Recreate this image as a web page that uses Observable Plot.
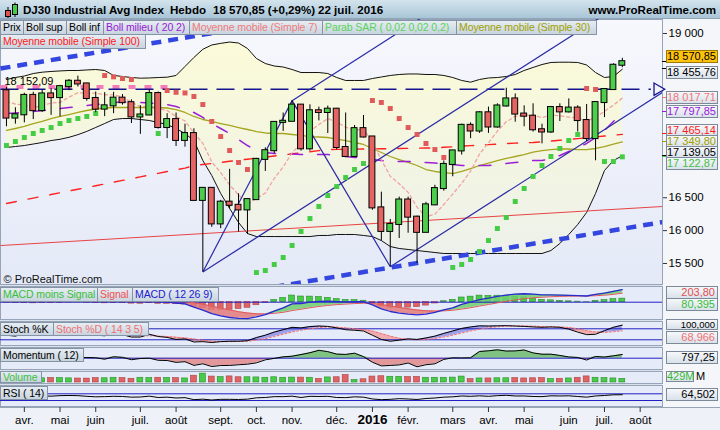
<!DOCTYPE html>
<html lang="fr">
<head>
<meta charset="utf-8">
<title>DJ30 Industrial Avg Index – Hebdo</title>
<script src="https://cdn.jsdelivr.net/npm/d3@7"></script>
<script src="https://cdn.jsdelivr.net/npm/@observablehq/plot@0.6"></script>
<style>
html,body{margin:0;padding:0;background:#fff;}
#root{position:relative;width:720px;height:430px;overflow:hidden;background:#d9e1ec;font-family:"Liberation Sans",Arial,sans-serif;color:#000;}
.a{position:absolute;}
.panel{position:absolute;left:0;width:663px;box-sizing:border-box;border:1px solid #97a4b8;}
.lg{position:absolute;box-sizing:border-box;height:15px;line-height:13px;font-size:10.5px;letter-spacing:-0.1px;padding:0 0 0 2px;border:1px solid #8494a6;background:linear-gradient(#e6edf3,#c8d4df);white-space:nowrap;overflow:hidden;}
.vb{position:absolute;left:666px;width:52px;box-sizing:border-box;height:13px;line-height:11px;font-size:11px;text-align:right;padding-right:2px;border:1px solid #7b8999;background:linear-gradient(#f6f8fb,#d9e1ea);white-space:nowrap;}
.pw{position:absolute;left:0;}
.pw svg{display:block;}
</style>
</head>
<body>
<svg width="0" height="0" style="position:absolute">
 <defs>
  <linearGradient id="bollFill" x1="0" y1="0" x2="0" y2="1">
   <stop offset="0" stop-color="#fbfad8"/>
   <stop offset="1" stop-color="#edf1ea"/>
  </linearGradient>
 </defs>
</svg>
<div id="root"></div>
<script>
// ---------------- DATA (weekly candles, 27 Mar 2015 – 22 Jul 2016) ----------------
const dates = ["2015-03-27","2015-04-02","2015-04-10","2015-04-17","2015-04-24","2015-05-01","2015-05-08","2015-05-15","2015-05-22","2015-05-29",
"2015-06-05","2015-06-12","2015-06-19","2015-06-26","2015-07-02","2015-07-10","2015-07-17","2015-07-24","2015-07-31","2015-08-07",
"2015-08-14","2015-08-21","2015-08-28","2015-09-04","2015-09-11","2015-09-18","2015-09-25","2015-10-02","2015-10-09","2015-10-16",
"2015-10-23","2015-10-30","2015-11-06","2015-11-13","2015-11-20","2015-11-27","2015-12-04","2015-12-11","2015-12-18","2015-12-24",
"2015-12-31","2016-01-08","2016-01-15","2016-01-22","2016-01-29","2016-02-05","2016-02-12","2016-02-19","2016-02-26","2016-03-04",
"2016-03-11","2016-03-18","2016-03-24","2016-04-01","2016-04-08","2016-04-15","2016-04-22","2016-04-29","2016-05-06","2016-05-13",
"2016-05-20","2016-05-27","2016-06-03","2016-06-10","2016-06-17","2016-06-24","2016-07-01","2016-07-08","2016-07-15","2016-07-22"];
const open = [18128,17713,17763,18058,17826,18080,18024,18191,18273,18232,
18011,17849,17899,18016,17947,17730,17760,18086,17569,17690,
17373,17477,16460,16643,16102,16433,16385,16315,16472,17084,
17216,17647,17664,17910,17245,17824,17798,17848,17265,17129,
17552,17425,16346,15988,16094,16466,16205,15974,16392,16640,
17007,17213,17602,17516,17793,17577,17897,18004,17774,17741,
17535,17501,17873,17807,17865,17675,17401,17949,18147,18517];
const high = [18180,17870,18090,18105,18135,18165,18210,18300,18351,18245,
18110,18100,18105,18070,17990,17900,18135,18110,17780,17790,
17620,17550,16650,16650,16460,16933,16560,16480,17100,17260,
17650,17790,17978,17920,17915,17880,17895,17860,17790,17600,
17752,17430,16585,16170,16510,16510,16220,16430,16690,17060,
17220,17620,17640,17810,17880,17930,18167,18080,17900,17930,
17620,17890,17930,18005,17900,17920,17950,18160,18540,18622];
const low = [17580,17620,17640,17690,17800,17755,17730,18130,18185,17970,
17795,17735,17780,17910,17630,17465,17750,17545,17400,17280,
17270,16450,15370,16050,16030,16330,15980,15940,16470,16900,
17170,17510,17660,17210,17210,17670,17478,17230,17110,17120,
17410,16310,15842,15450,15880,15960,15503,15970,16380,16600,
16820,17150,17400,17480,17480,17560,17880,17650,17580,17500,
17320,17480,17660,17790,17500,17356,17063,17720,18140,18480];
const close = [17713,17763,18058,17826,18080,18024,18191,18273,18232,18011,
17849,17899,18016,17947,17730,17760,18086,17569,17690,17373,
17477,16460,16643,16102,16433,16385,16315,16472,17084,17216,
17647,17664,17910,17245,17824,17798,17848,17265,17129,17552,
17425,16346,15988,16094,16466,16205,15974,16392,16640,17007,
17213,17602,17516,17793,17577,17897,18004,17774,17741,17535,
17501,17873,17807,17865,17675,17401,17949,18147,18516.55,18570.85];
// Bollinger (20, 2)
const bollUpper = [18300,18330,18353,18391,18411,18422,18430,18437,18437,18445,
18452,18437,18361,18346,18330,18320,18323,18330,18335,18361,
18498,18635,18760,18825,18850,18870,18855,18772,18620,18543,
18505,18490,18452,18406,18406,18406,18391,18330,18285,18285,
18285,18315,18338,18361,18376,18384,18384,18376,18376,18361,
18330,18285,18259,18300,18323,18330,18346,18376,18437,18483,
18528,18559,18563,18563,18559,18521,18406,18330,18346,18455.76];
const bollLower = [17265,17280,17295,17318,17341,17371,17390,17420,17460,17510,
17570,17630,17691,17706,17706,17691,17676,17645,17615,17554,
17478,17371,17067,16839,16565,16337,16124,15956,15910,15910,
15910,15910,15910,15910,15910,15926,15926,15941,15941,15941,
15926,15910,15849,15758,15728,15713,15697,15682,15667,15652,
15652,15652,15652,15652,15652,15652,15652,15652,15652,15652,
15652,15697,15804,15941,16093,16276,16565,16915,17067,17139.05];
const bollMiddle = [17782,17790,17798,17813,17828,17843,17858,17874,17889,17904,
17919,17935,17950,17957,17957,17950,17942,17935,17919,17889,
17843,17798,17722,17630,17554,17478,17387,17295,17219,17189,
17174,17174,17166,17158,17158,17158,17158,17143,17128,17113,
17105,17082,17067,17052,17052,17052,17044,17037,17029,17021,
17006,16991,16991,16991,16991,17006,17021,17037,17052,17067,
17067,17098,17143,17204,17265,17326,17417,17524,17661,17797.85];
const ma7 = [17963,17926,17914,17870,17902,17942,17951,18031,18098,18091,
18094,18068,18067,18032,17955,17887,17898,17858,17828,17736,
17669,17488,17328,17045,16883,16696,16545,16401,16491,16572,
16793,16969,17187,17320,17513,17615,17705,17651,17574,17523,
17549,17338,17079,16828,16714,16582,16357,16209,16251,16397,
16557,16719,16906,17166,17335,17515,17657,17738,17757,17760,
17718,17761,17748,17728,17714,17665,17724,17817,17909,18017.71];
const ma30 = [17524,17554,17585,17630,17661,17706,17737,17767,17798,17828,
17851,17866,17874,17874,17874,17874,17874,17874,17866,17843,
17798,17737,17691,17661,17630,17600,17569,17539,17508,17486,
17478,17478,17463,17448,17432,17425,17417,17394,17371,17341,
17311,17250,17189,17128,17082,17037,16991,16930,16900,16884,
16869,16900,16945,16991,17029,17067,17098,17128,17158,17196,
17219,17234,17242,17242,17234,17234,17250,17280,17318,17349.80];
const ma100 = [16413,16440,16468,16495,16522,16549,16576,16603,16630,16656,
16683,16710,16737,16764,16791,16818,16845,16872,16899,16926,
16952,16990,17006,17022,17038,17055,17071,17087,17104,17120,
17136,17152,17169,17185,17201,17218,17234,17236,17238,17240,
17242,17244,17246,17248,17250,17252,17254,17257,17260,17268,
17276,17285,17293,17301,17309,17317,17325,17332,17337,17341,
17352,17364,17375,17387,17400,17413,17426,17439,17452,17465.14];
// Parabolic SAR (0,02 0,02 0,2); null = no dot visible
const sar = [17295,17356,17417,17478,17524,17569,17630,17676,17706,17737,
17782,18360,18340,18315,18300,null,null,17478,18132,18105,
18095,18041,17919,17661,17432,17219,17037,16930,15362,15393,
15484,15591,15774,15987,16184,16367,16534,16671,16808,16930,
17021,17980,17950,17858,17706,17569,17463,17326,17234,17113,
15439,15484,15560,15682,15849,16032,16200,16443,16641,16824,
16991,17128,17250,17371,17463,18163,18148,17052,17052,17122.87];
// Drawn objects (index of week, price)
const levelLine = 18152.09;            // navy dashed horizontal line with arrow
const pinkLevel = 18186;               // thick pink dashed line (left part)
const pinkLevelEnd = 18.3;
const channelSegments = [               // thin navy lines
  [22, 15370, 32, 17978],
  [32, 17978, 43, 15450],
  [22, 15370, 74, 19894],
  [32, 17978, 74, 21632],
  [43, 15450, 74, 18147]
];
const thickDashSegments = [[-0.67, 18467, 30, 19163], [30, 15143, 73.5, 16130]];
const redTrendSegments = [[-0.67, 15773, 73.5, 16367]];
const priceTicks = [19000, 16500, 16000, 15500];
// MACD (12 26 9)
const macd = [120,105,100,90,88,85,88,92,95,85,
70,60,58,52,35,25,30,10,0,-20,
-40,-110,-180,-260,-310,-345,-365,-370,-330,-280,
-200,-130,-40,-30,0,20,25,15,5,15,
10,-60,-150,-210,-245,-270,-285,-270,-230,-175,
-130,-50,0,60,90,130,160,180,190,180,
165,165,160,155,150,140,175,205,245,284.195];
const macdSignal = [130,125,120,115,110,105,102,100,99,96,
91,85,80,75,67,59,53,45,36,25,
12,-12,-46,-89,-133,-175,-213,-244,-261,-265,
-252,-228,-190,-158,-126,-97,-73,-55,-43,-31,
-23,-30,-54,-85,-117,-148,-175,-194,-201,-196,
-183,-156,-125,-88,-52,-16,19,51,79,99,
112,123,130,135,138,138,146,158,176,203.80];
const macdHist = [-10,-20,-20,-25,-22,-20,-14,-8,-4,-11,
-21,-25,-22,-23,-32,-34,-23,-35,-36,-45,
-52,-98,-134,-171,-177,-170,-152,-126,-69,-15,
52,98,150,128,126,117,98,70,48,46,
33,-30,-96,-125,-128,-122,-110,-76,-29,21,
53,106,125,148,142,146,141,129,111,81,
53,42,30,20,12,2,29,47,69,80.395];
// Stochastic (14 3 5)
const stochK = [45,40,55,48,58,55,68,78,75,60,
45,42,52,48,35,35,50,38,33,22,
25,8,10,5,10,12,12,15,32,45,
62,75,88,85,92,95,93,85,75,72,
68,45,22,12,18,25,22,30,40,55,
68,82,90,96,95,96,97,95,93,90,
88,90,88,78,62,48,50,70,88,100];
const stochD = [50,47,46,47,50,52,56,62,68,70,
66,58,52,50,45,42,42,40,38,34,
30,24,18,12,10,10,11,12,18,26,
38,50,62,72,80,86,90,89,85,80,
76,68,54,40,28,22,20,22,27,35,
45,57,68,78,86,91,94,95,95,94,
92,91,90,87,80,70,62,60,64,68.966];
// Momentum (12)
const momentum = [-120,26,547,153,915,200,172,133,99,155,
100,-229,303,184,-328,-66,6,-455,-501,-900,
-755,-1551,-1206,-1797,-1583,-1562,-1415,-1288,-1002,-353,
-43,291,433,785,1181,1696,1415,880,814,1080,
341,-870,-1659,-1570,-1444,-1040,-1850,-1406,-1208,-258,
84,50,91,1447,1589,1803,1538,1569,1767,1143,
861,866,594,263,159,-392,372,250,513,797.25];
// Volume (millions)
const volume = [520,430,480,520,500,530,520,490,470,460,
520,500,560,520,440,560,520,560,540,520,
480,800,1050,700,640,720,620,620,600,560,
620,560,580,580,560,420,600,620,880,300,
380,700,740,680,660,640,660,560,560,560,
580,700,400,480,480,500,500,520,480,500,
520,400,440,480,560,720,560,520,480,429];
// RSI (14)
const rsi = [52,53,57,54,57,56,59,60,59,55,
52,53,55,54,50,51,56,48,50,45,
47,35,38,33,37,37,36,38,46,48,
53,53,56,48,55,54,55,48,47,52,
50,39,35,37,41,39,36,42,45,50,
52,57,55,58,55,59,61,57,57,54,
53,58,57,58,54,50,57,60,64,64.502];
// X-axis ticks (week index of first week of each month)
const monthTickIdx = [2,6,10,15,19,24,28,32,37,41,45,50,54,58,63,67,71];
const monthTickLabels = ["avr.","mai","juin","juil.","août","sept.","oct.","nov.","déc.","2016","févr.","mars","avr.","mai","juin","juil.","août"];
const yearTick = "2016";

// ---------------- LAYOUT ----------------
const N = close.length;
const X = {domain: [-0.67, 73.5], axis: null};
const W = 720, MR = 58;
const GREEN = "#4ccd4c", RED = "#e46464", NAVY = "#14148e";
const loc = d3.formatLocale({decimal: ",", thousands: "\u00a0", grouping: [3], currency: ["", ""]});
const f0 = loc.format(",.0f"), f2 = loc.format(",.2f"), f3 = loc.format(",.3f");
const root = document.getElementById("root");
const FONT = "Liberation Sans, Arial, sans-serif";

function addHTML(h) { root.insertAdjacentHTML("beforeend", h); }
function addPlot(plot, top) {
  const d = document.createElement("div");
  d.className = "pw"; d.style.top = top + "px";
  d.appendChild(plot); root.appendChild(d);
  return plot;
}
const base = (h, extra = {}) => Object.assign({
  width: W, height: h, marginTop: 0, marginBottom: 0, marginLeft: 0, marginRight: MR,
  x: X, color: {type: "identity"},
  style: {background: "transparent", overflow: "visible", fontFamily: FONT}
}, extra);

// Panels backgrounds
addHTML(`<div class="a" style="left:662px;top:19px;width:58px;height:388px;background:#f4f6fa"></div>`);
addHTML(`<div class="a" style="left:0;top:407px;width:720px;height:23px;background:#eef1f8;border-top:1px solid #97a4b8;box-sizing:border-box"></div>`);
addHTML(`<div class="panel" style="top:19px;height:266px;background:linear-gradient(#f7f8fd,#e4e9f7)"></div>`);
const subPanels = [[286,34],[321,25],[347,23],[371,13],[385,22]];
for (const [t,h] of subPanels) addHTML(`<div class="panel" style="top:${t}px;height:${h}px;background:#e6ebf9"></div>`);

// Title bar
addHTML(`<div class="a" style="left:0;top:0;width:720px;height:19px;background:linear-gradient(#d4e4ed,#a9c5d7);border-bottom:1px solid #8ea6b8;box-sizing:border-box"></div>`);
addHTML(`<svg class="a" style="left:3px;top:2px" width="16" height="16"><line x1="5" y1="5" x2="5" y2="16" stroke="#000"/><rect x="2.5" y="8.5" width="5" height="6" fill="#e05050" stroke="#000"/><line x1="12" y1="0.5" x2="12" y2="15" stroke="#000"/><rect x="9.5" y="2.5" width="5" height="10" fill="#44cc44" stroke="#000"/></svg>`);
const pct = (close[N-1] / close[N-2] - 1) * 100;
const lastDate = new Date(dates[N-1] + "T12:00:00");
const frMonths = ["janv.","févr.","mars","avr.","mai","juin","juil.","août","sept.","oct.","nov.","déc."];
const titleParts = [
  [23, "DJ30 Industrial Avg Index"],
  [170, "Hebdo"],
  [213, `${f2(close[N-1])} (${pct >= 0 ? "+" : ""}${loc.format(".2f")(pct)}%)`],
  [318, `${lastDate.getDate()} ${frMonths[lastDate.getMonth()]} ${lastDate.getFullYear()}`]
];
for (const [l, t] of titleParts) addHTML(`<div class="a" style="left:${l}px;top:2px;font-weight:bold;font-size:11.6px;line-height:15px;white-space:nowrap">${t}</div>`);
addHTML(`<div class="a" style="right:4px;top:2px;font-weight:bold;font-size:11.6px;line-height:15px">www.ProRealTime.com</div>`);

// ---------------- MAIN PRICE PANEL ----------------
const R = d3.range(N).map(i => ({i, o: open[i], h: high[i], l: low[i], c: close[i],
  up: bollUpper[i], lo: bollLower[i], mid: bollMiddle[i], m7: ma7[i], m30: ma30[i], m100: ma100[i], sar: sar[i]}));
const seg = a => a.map(([x1, y1, x2, y2]) => ({x1, y1, x2, y2}));
const main = addPlot(Plot.plot(base(265, {
  y: {domain: [15180, 19213], axis: null},
  marks: [
    Plot.areaY(R, {x: "i", y1: "lo", y2: "up", fill: "url(#bollFill)"}),
    Plot.line(R, {x: "i", y: "up", stroke: "#111", strokeWidth: 1}),
    Plot.line(R, {x: "i", y: "lo", stroke: "#111", strokeWidth: 1}),
    Plot.link(seg(redTrendSegments), {x1: "x1", y1: "y1", x2: "x2", y2: "y2", stroke: "#e84444", strokeWidth: 1, clip: true}),
    Plot.line(R, {x: "i", y: "m100", stroke: "#ff2020", strokeWidth: 1.4, strokeDasharray: "10,12"}),
    Plot.line(R, {x: "i", y: "m30", stroke: "#a5a520", strokeWidth: 1.3}),
    Plot.line(R, {x: "i", y: "mid", stroke: "#9b1fd6", strokeWidth: 1.5, strokeDasharray: "12,15"}),
    Plot.line(R, {x: "i", y: "m7", stroke: "#f2a2a2", strokeWidth: 1.3, strokeDasharray: "3,3"}),
    Plot.link([{x1: -0.67, x2: pinkLevelEnd, y: pinkLevel}], {x1: "x1", x2: "x2", y1: "y", y2: "y", stroke: "#f47cbc", strokeWidth: 4, strokeDasharray: "7,9"}),
    Plot.link([{x1: -0.67, x2: 72.2, y: levelLine}], {x1: "x1", x2: "x2", y1: "y", y2: "y", stroke: NAVY, strokeWidth: 1.5, strokeDasharray: "18,9"}),
    Plot.dot([{x: 72.95, y: levelLine}], {x: "x", y: "y", symbol: "triangle", rotate: 90, r: 4.6, stroke: NAVY, strokeWidth: 1.3, fill: "#f2f4fb"}),
    Plot.link(seg(channelSegments), {x1: "x1", y1: "y1", x2: "x2", y2: "y2", stroke: "#2a2aa6", strokeWidth: 1.2, clip: true}),
    Plot.link(seg(thickDashSegments), {x1: "x1", y1: "y1", x2: "x2", y2: "y2", stroke: "#3346e0", strokeWidth: 4.5, strokeDasharray: "10,7", clip: true}),
    Plot.dot(R.filter(d => d.sar != null), {x: "i", y: "sar", symbol: "square", r: 2.8, stroke: null,
      fill: d => d.sar < d.c ? "#44cc44" : "#e05a5a"}),
    Plot.ruleX(R, {x: "i", y1: "l", y2: "h", stroke: "#000", strokeWidth: 1}),
    Plot.rect(R, {x1: d => d.i - 0.33, x2: d => d.i + 0.33, y1: "o", y2: "c", insetTop: -0.5, insetBottom: -0.5,
      fill: d => d.c >= d.o ? GREEN : RED, stroke: "#000", strokeWidth: 1}),
    Plot.text([levelLine], {x: -0.67, y: d => d, text: d => f2(d), dx: 4, dy: -8, textAnchor: "start", fontSize: 11, fill: "#000"}),
    Plot.text(["© ProRealTime.com"], {frameAnchor: "bottom-left", dx: 3, dy: -2, fontSize: 11, fill: "#111"}),
    Plot.axisY({anchor: "right", ticks: priceTicks, tickFormat: f0, tickSize: 4, tickPadding: 2, fontSize: 11.5, stroke: "#333"})
  ]
})), 19);

// legend boxes (main)
const legRow1 = [
  ["Prix", "#000", 0, 24], ["Boll sup", "#000", 23, 44], ["Boll inf", "#000", 66, 38],
  ["Boll milieu ( 20 2)", "#9a18d8", 103, 87], ["Moyenne mobile (Simple 7)", "#f07a7a", 189, 134],
  ["Parab SAR ( 0,02 0,02 0,2)", "#58d458", 322, 135], ["Moyenne mobile (Simple 30)", "#a0a000", 456, 141]
];
for (const [t, c, l, w] of legRow1) addHTML(`<div class="lg" style="left:${l}px;top:20px;width:${w}px;color:${c}">${t}</div>`);
addHTML(`<div class="lg" style="left:0;top:34px;width:146px;color:#ff1a1a">Moyenne mobile (Simple 100)</div>`);

// value boxes (main)
const yS = main.scale("y");
const mainVals = [
  [close[N-1], "#000", -4.5, "#ffc30f"], [bollUpper[N-1], "#000", 4], [ma7[N-1], "#ee7676", 0],
  [bollMiddle[N-1], "#9a18d8", 0], [ma100[N-1], "#ff1a1a", -3.5], [ma30[N-1], "#a0a000", 0],
  [bollLower[N-1], "#000", -3], [sar[N-1], "#44c044", 7]
];
for (const [v, c, dy, bg] of mainVals) {
  const y = 19 + yS.apply(v);
  addHTML(`<div class="a" style="left:662px;top:${y - 0.5}px;width:4px;height:1px;background:${c}"></div>`);
  addHTML(`<div class="vb" style="top:${y + dy - 6.5}px;color:${c};${bg ? `background:${bg};border-color:#9a7a00;` : ""}">${f2(v)}</div>`);
}

// ---------------- MACD ----------------
const M = d3.range(N).map(i => ({i, m: macd[i], s: macdSignal[i], h: macdHist[i]}));
addPlot(Plot.plot(base(34, {
  y: {domain: [-413, 354], axis: null},
  marks: [
    Plot.rect(M, {x1: d => d.i - 0.33, x2: d => d.i + 0.33, y1: 0, y2: "h",
      fill: d => d.h >= 0 ? "#48cc48" : "#e06464", stroke: d => d.h >= 0 ? "#2a8a2a" : "#a84040", strokeWidth: 0.6}),
    Plot.areaY(M, {x: "i", y1: "s", y2: d => Math.max(d.m, d.s), fill: "#6fcf6f", fillOpacity: 0.85}),
    Plot.areaY(M, {x: "i", y1: d => Math.min(d.m, d.s), y2: "s", fill: "#e27a7a", fillOpacity: 0.85}),
    Plot.ruleY([0], {stroke: "#2020c0", strokeWidth: 1}),
    Plot.line(M, {x: "i", y: "s", stroke: "#e05a5a", strokeWidth: 1}),
    Plot.line(M, {x: "i", y: "m", stroke: "#2a2ad0", strokeWidth: 1.3})
  ]
})), 286);
addHTML(`<div class="lg" style="left:0;top:287px;width:98px;color:#38c038">MACD moins Signal</div>`);
addHTML(`<div class="lg" style="left:97px;top:287px;width:36px;color:#f05050">Signal</div>`);
addHTML(`<div class="lg" style="left:132px;top:287px;width:87px;color:#2020d0">MACD ( 12 26 9)</div>`);
addHTML(`<div class="vb" style="top:286px;color:#e05050">${f2(macdSignal[N-1])}</div>`);
addHTML(`<div class="vb" style="top:298px;color:#38c038">${f3(macdHist[N-1])}</div>`);

// ---------------- STOCHASTIC ----------------
const S = d3.range(N).map(i => ({i, k: stochK[i], d: stochD[i]}));
addPlot(Plot.plot(base(25, {
  y: {domain: [-16.6, 119.8], axis: null},
  marks: [
    Plot.areaY(S, {x: "i", y1: "d", y2: e => Math.max(e.k, e.d), fill: "#8c8ce6", fillOpacity: 0.8}),
    Plot.areaY(S, {x: "i", y1: e => Math.min(e.k, e.d), y2: "d", fill: "#f0a2a2", fillOpacity: 0.85}),
    Plot.ruleY([80, 20], {stroke: "#2020c0", strokeWidth: 1}),
    Plot.line(S, {x: "i", y: "d", stroke: "#f07070", strokeWidth: 1, strokeDasharray: "2,2"}),
    Plot.line(S, {x: "i", y: "k", stroke: "#000", strokeWidth: 1})
  ]
})), 321);
addHTML(`<div class="lg" style="left:0;top:322px;width:54px;height:14px;color:#000">Stoch %K</div>`);
addHTML(`<div class="lg" style="left:53px;top:322px;width:96px;height:14px;color:#f07070">Stoch %D ( 14 3 5)</div>`);
addHTML(`<div class="vb" style="top:319px;height:11px;line-height:9px;font-size:9.5px;color:#000">${f3(stochK[N-1])}</div>`);
addHTML(`<div class="vb" style="top:331px;color:#f07070">${f3(stochD[N-1])}</div>`);

// ---------------- MOMENTUM ----------------
const Mo = d3.range(N).map(i => ({i, v: momentum[i]}));
addPlot(Plot.plot(base(23, {
  y: {domain: [-2651, 2306], axis: null},
  marks: [
    Plot.areaY(Mo, {x: "i", y1: 0, y2: d => Math.max(0, d.v), fill: "#6dbb6d", fillOpacity: 0.85}),
    Plot.areaY(Mo, {x: "i", y1: d => Math.min(0, d.v), y2: 0, fill: "#e08a8a", fillOpacity: 0.85}),
    Plot.ruleY([0], {stroke: "#2020c0", strokeWidth: 1}),
    Plot.line(Mo, {x: "i", y: "v", stroke: "#000", strokeWidth: 1})
  ]
})), 347);
addHTML(`<div class="lg" style="left:0;top:348px;width:84px;height:14px;color:#000">Momentum ( 12)</div>`);
addHTML(`<div class="vb" style="top:351px;color:#000">${f2(momentum[N-1])}</div>`);

// ---------------- VOLUME ----------------
const V = d3.range(N).map(i => ({i, v: volume[i], up: close[i] >= open[i]}));
addPlot(Plot.plot(base(13, {
  marginBottom: 2,
  y: {domain: [0, 1300], axis: null},
  marks: [
    Plot.rect(V, {x1: d => d.i - 0.33, x2: d => d.i + 0.33, y1: 0, y2: "v",
      fill: d => d.up ? "#48cc48" : "#e06464", stroke: d => d.up ? "#2a8a2a" : "#a84040", strokeWidth: 0.6})
  ]
})), 371);
addHTML(`<div class="lg" style="left:0;top:371px;width:42px;height:12px;line-height:10px;color:#40c040">Volume</div>`);
addHTML(`<div class="vb" style="top:371px;height:11px;line-height:9px;width:28px;color:#38b838">${Math.round(volume[N-1])}M</div>`);
addHTML(`<div class="a" style="left:696px;top:370px;font-size:11px;line-height:13px">M</div>`);

// ---------------- RSI ----------------
const Ri = d3.range(N).map(i => ({i, v: rsi[i]}));
addPlot(Plot.plot(base(22, {
  y: {domain: [-11.8, 119.6], axis: null},
  marks: [
    Plot.ruleY([70, 30], {stroke: "#2020c0", strokeWidth: 1}),
    Plot.line(Ri, {x: "i", y: "v", stroke: "#000", strokeWidth: 1})
  ]
})), 385);
addHTML(`<div class="lg" style="left:0;top:386px;width:48px;height:14px;color:#000">RSI ( 14)</div>`);
addHTML(`<div class="vb" style="top:388px;color:#000">${f3(rsi[N-1])}</div>`);

// ---------------- X AXIS ----------------
const tickLab = new Map(monthTickIdx.map((t, k) => [t, monthTickLabels[k]]));
const yearIdx = monthTickIdx.filter(t => tickLab.get(t) === yearTick);
addPlot(Plot.plot(base(23, {
  y: {domain: [0, 1], axis: null},
  marks: [
    Plot.axisX({anchor: "bottom", ticks: monthTickIdx.filter(t => tickLab.get(t) !== yearTick), tickFormat: t => tickLab.get(t),
      tickSize: 5, tickPadding: 3, fontSize: 11.5, stroke: "#333"}),
    Plot.axisX({anchor: "bottom", ticks: yearIdx, tickFormat: t => tickLab.get(t),
      tickSize: 5, tickPadding: 2, fontSize: 13.5, fontWeight: "bold", stroke: "#333"})
  ]
})), 384);
</script>
</body>
</html>
